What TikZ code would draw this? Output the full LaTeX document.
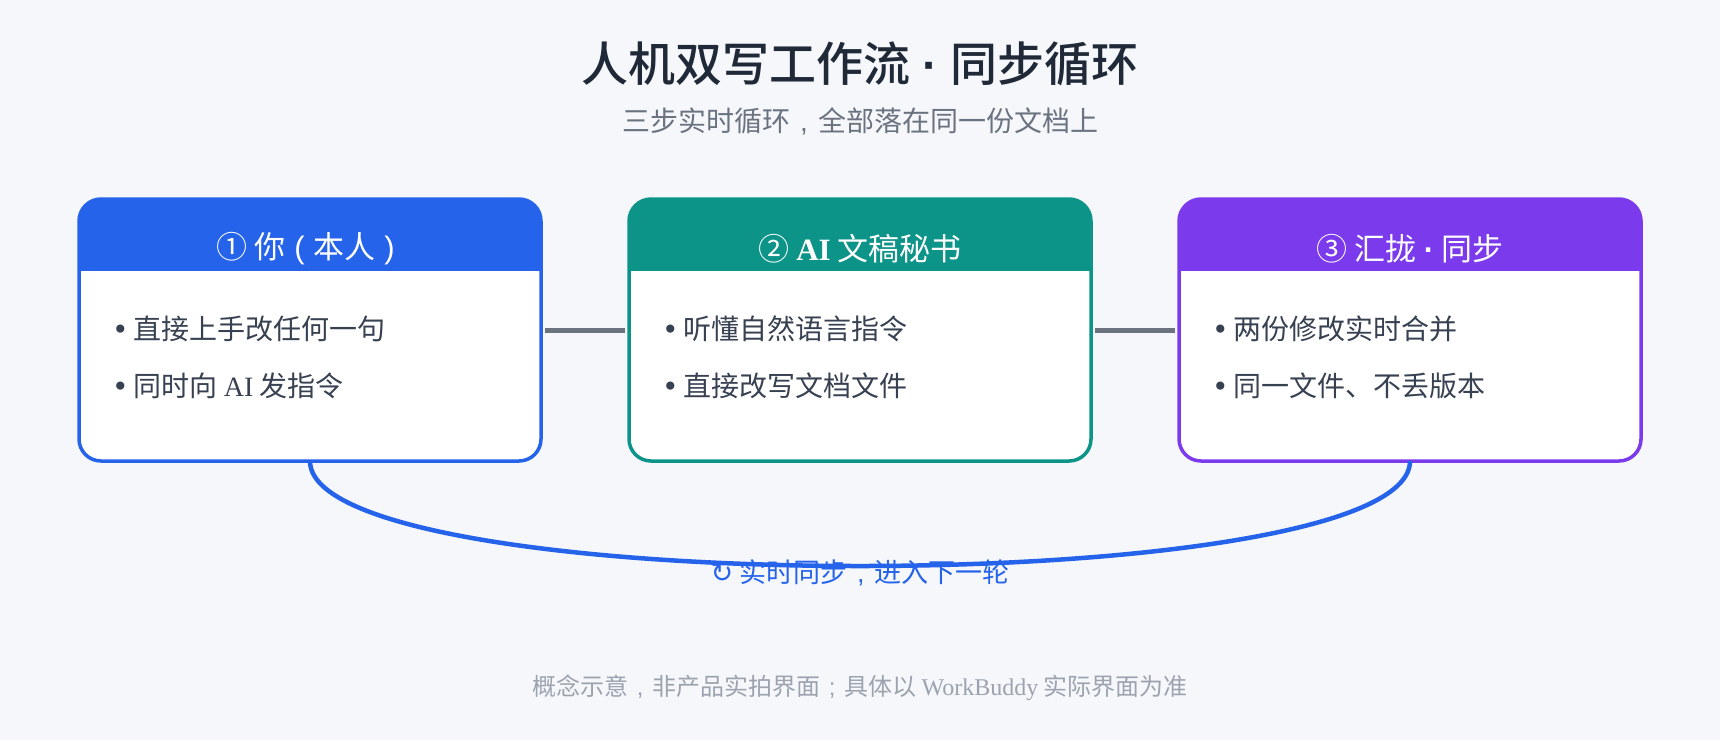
\documentclass[tikz,border=0pt]{standalone}
\usepackage{fontspec}
\setmainfont{Liberation Serif}
\newfontfamily\cjk{Noto Sans CJK SC}
\newfontfamily\cjkmed{Noto Sans CJK SC Medium}
\newfontfamily\sym{DejaVu Sans}
\newfontfamily\lsans{Liberation Sans}
\definecolor{bg}{HTML}{F5F7FB}
\definecolor{cA}{HTML}{2563EB}
\definecolor{cB}{HTML}{0D9488}
\definecolor{cC}{HTML}{7C3AED}
\definecolor{linkgray}{HTML}{6B7280}
\definecolor{titlecol}{HTML}{1F2937}
\definecolor{subcol}{HTML}{6B7280}
\definecolor{txtcol}{HTML}{374151}
\definecolor{footcol}{HTML}{9CA3AF}
\tikzset{
  card/.style={rectangle, minimum width=462pt, minimum height=262pt, outer sep=0pt, inner sep=0pt, fill=white, rounded corners=22pt,
    path picture={\fill[#1, sharp corners] (path picture bounding box.north west) rectangle ([yshift=-72pt]path picture bounding box.north east);}},
  cardborder/.style={draw=#1, line width=3.5pt, rounded corners=22pt},
  hdr/.style={text=white, font=\cjk\fontsize{31}{36}\selectfont, inner sep=0pt},
  bul/.style={anchor=west, text=txtcol, font=\cjk\fontsize{28}{33}\selectfont, inner sep=0pt},
  link/.style={draw=linkgray, line width=5pt, shorten <=4pt, shorten >=4pt},
  loopline/.style={draw=cA, line width=4.5pt},
}
\newcommand{\bdot}{{\sym •}\hspace{5pt}}
\newcommand{\fwc}{\makebox[1em][c]{\lsans ,}}
\newcommand{\fws}{\makebox[1em][c]{\lsans ;}}
\newcommand{\lpar}{\makebox[0.9em][c]{\lsans (}}
\newcommand{\rpar}{\makebox[0.9em][c]{\lsans )}}
\newcommand{\mdot}{\hspace{0.25em}{\lsans\bfseries ·}\hspace{0.25em}}
\begin{document}
\begin{tikzpicture}[x=1pt, y=-1pt]
\fill[bg] (0,0) rectangle (1720,740);
\useasboundingbox (0,0) rectangle (1720,740);

\node[font=\cjkmed\fontsize{47}{54}\selectfont, text=titlecol] (title) at (860,64) {人机双写工作流\mdot 同步循环};
\node[font=\cjk\fontsize{28}{33}\selectfont, text=subcol] (subtitle) at (860,121) {三步实时循环\fwc 全部落在同一份文档上};

\node[card=cA] (b1) at (310,330) {};
\node[card=cB] (b2) at (860,330) {};
\node[card=cC] (b3) at (1410,330) {};
\draw[cardborder=cA] (b1.north west) rectangle (b1.south east);
\draw[cardborder=cB] (b2.north west) rectangle (b2.south east);
\draw[cardborder=cC] (b3.north west) rectangle (b3.south east);

\node[hdr] (h1) at ([yshift=-50pt]b1.north) {① 你\lpar 本人\rpar};
\node[hdr] (h2) at ([yshift=-50pt]b2.north) {② {\rmfamily\bfseries AI} 文稿秘书};
\node[hdr] (h3) at ([yshift=-50pt]b3.north) {③ 汇拢\mdot 同步};

\node[bul] (b1a) at ([xshift=33pt,yshift=-130pt]b1.north west) {\bdot 直接上手改任何一句};
\node[bul] (b1b) at ([xshift=33pt,yshift=-187pt]b1.north west) {\bdot 同时向 {\rmfamily AI} 发指令};
\node[bul] (b2a) at ([xshift=33pt,yshift=-130pt]b2.north west) {\bdot 听懂自然语言指令};
\node[bul] (b2b) at ([xshift=33pt,yshift=-187pt]b2.north west) {\bdot 直接改写文档文件};
\node[bul] (b3a) at ([xshift=33pt,yshift=-130pt]b3.north west) {\bdot 两份修改实时合并};
\node[bul] (b3b) at ([xshift=33pt,yshift=-187pt]b3.north west) {\bdot 同一文件、不丢版本};

\draw[link] (b1.east) -- (b2.west);
\draw[link] (b2.east) -- (b3.west);

\node[font=\cjk\fontsize{27}{32}\selectfont, text=cA] (loopl) at (860,573) {{\sym ↻} 实时同步\fwc 进入下一轮};
\draw[loopline] (b1.south) .. controls +(0,140) and +(0,140) .. (b3.south);

\node[font=\cjk\fontsize{24}{29}\selectfont, text=footcol] (foot) at (860,688) {概念示意\fwc 非产品实拍界面\fws 具体以 {\rmfamily WorkBuddy} 实际界面为准};
\end{tikzpicture}
\end{document}
